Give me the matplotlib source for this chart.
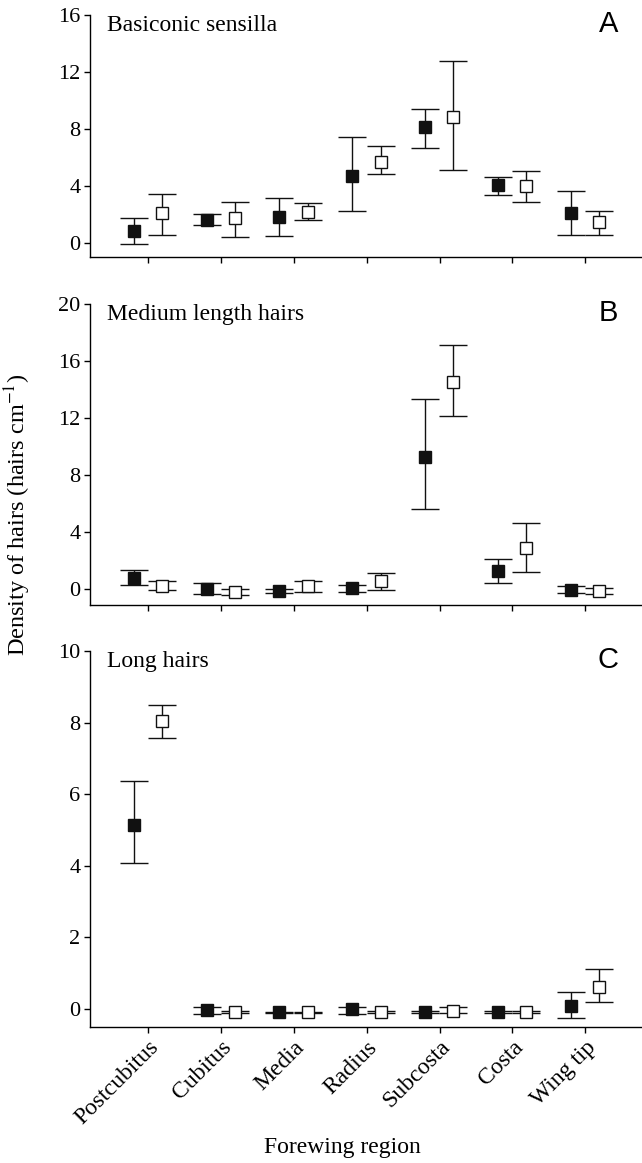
import matplotlib

matplotlib.use("Agg")
import matplotlib.pyplot as plt  # noqa: E402
import numpy as np  # noqa: E402


REGIONS = ["Postcubitus", "Cubitus", "Media", "Radius", "Subcosta", "Costa", "Wing tip"]

# panel A: basiconic sensilla (mean, lower end, upper end of error bar)
a_filled_mean = [0.84, 1.59, 1.83, 4.71, 8.10, 4.03, 2.06]
a_filled_low = [-0.09, 1.24, 0.47, 2.20, 6.67, 3.33, 0.54]
a_filled_high = [1.71, 2.01, 3.11, 7.40, 9.41, 4.64, 3.61]
a_open_mean = [2.06, 1.71, 2.18, 5.64, 8.85, 3.98, 1.48]
a_open_low = [0.54, 0.44, 1.59, 4.80, 5.13, 2.86, 0.54]
a_open_high = [3.40, 2.83, 2.79, 6.81, 12.74, 5.06, 2.22]

# panel B: medium length hairs
b_filled_mean = [0.82, 0.00, -0.14, 0.12, 9.24, 1.29, -0.05]
b_filled_low = [0.30, -0.35, -0.28, -0.16, 5.61, 0.42, -0.26]
b_filled_high = [1.38, 0.42, 0.00, 0.33, 13.33, 2.15, 0.21]
b_open_mean = [0.23, -0.19, 0.23, 0.58, 14.53, 2.90, -0.12]
b_open_low = [-0.05, -0.40, -0.16, -0.02, 12.16, 1.22, -0.30]
b_open_high = [0.56, 0.00, 0.56, 1.12, 17.12, 4.68, 0.09]

# panel C: long hairs
c_filled_mean = [5.14, -0.02, -0.09, -0.01, -0.08, -0.08, 0.10]
c_filled_low = [4.09, -0.13, -0.11, -0.13, -0.10, -0.10, -0.25]
c_filled_high = [6.38, 0.07, -0.07, 0.07, -0.06, -0.06, 0.47]
c_open_mean = [8.04, -0.08, -0.09, -0.08, -0.04, -0.08, 0.63]
c_open_low = [7.57, -0.10, -0.11, -0.10, -0.11, -0.10, 0.20]
c_open_high = [8.48, -0.06, -0.07, -0.06, 0.05, -0.06, 1.11]

PANELS = [
    ("Basiconic sensilla", "A", (-1.0, 16.0), np.arange(0, 17, 4),
     (a_filled_mean, a_filled_low, a_filled_high), (a_open_mean, a_open_low, a_open_high)),
    ("Medium length hairs", "B", (-1.1, 20.0), np.arange(0, 21, 4),
     (b_filled_mean, b_filled_low, b_filled_high), (b_open_mean, b_open_low, b_open_high)),
    ("Long hairs", "C", (-0.5, 10.0), np.arange(0, 11, 2),
     (c_filled_mean, c_filled_low, c_filled_high), (c_open_mean, c_open_low, c_open_high)),
]

SERIF = ["Liberation Serif", "DejaVu Serif"]
SANS = ["Liberation Sans", "DejaVu Sans"]
W, H = 642, 1163

# axes boxes in pixels: (top, bottom)
BOXES = [(15, 257), (304, 605), (651, 1027)]
LEFT_PX, RIGHT_PX = 90, 642


def _errorbar(ax, x, series, face):
    mean, low, high = (np.asarray(v, dtype=float) for v in series)
    yerr = np.vstack([mean - low, high - mean])
    ax.errorbar(
        x, mean, yerr=yerr, fmt="s", color="#111111", ecolor="#111111",
        markerfacecolor=face, markeredgecolor="#111111", markeredgewidth=1.0,
        markersize=8, elinewidth=1.0, capsize=10, capthick=1.0, zorder=3,
    )


def main() -> None:
    plt.rcParams["font.family"] = SERIF
    plt.rcParams["mathtext.fontset"] = "stix"
    fig = plt.figure(figsize=(W / 100, H / 100), dpi=100)
    x = np.arange(len(REGIONS))

    for i, (title, letter, ylim, yticks, filled, hollow) in enumerate(PANELS):
        top, bottom = BOXES[i]
        height = bottom - top
        ax = fig.add_axes([LEFT_PX / W, 1 - bottom / H, (RIGHT_PX - LEFT_PX) / W, height / H])
        _errorbar(ax, x - 0.2, filled, "#111111")
        _errorbar(ax, x + 0.19, hollow, "white")

        ax.set_xlim(-0.8, 6.78)
        ax.set_ylim(*ylim)
        ax.set_yticks(yticks)
        ax.set_xticks(x)
        ax.spines["top"].set_visible(False)
        ax.spines["right"].set_visible(False)
        for side in ("left", "bottom"):
            ax.spines[side].set_linewidth(1.0)
        ax.tick_params(direction="out", length=4, width=1.0, labelsize=16, pad=3)
        if i < 2:
            ax.set_xticklabels([])
        else:
            ax.set_xticklabels(REGIONS, rotation=45, ha="right", rotation_mode="anchor", fontsize=17)

        ax.text(0.03, 1.0, title, transform=ax.transAxes, ha="left", va="top", fontsize=17)
        ax.text(0.957, 1 + 5 / height, letter, transform=ax.transAxes, ha="right", va="top",
                fontsize=21, family=SANS)

    fig.text(18 / W, 1 - 515 / H, "Density of hairs (hairs cm$^{-1}$)", rotation=90,
             ha="center", va="center", fontsize=17.5)
    fig.text(342 / W, 1 - 1148 / H, "Forewing region", ha="center", va="center", fontsize=17)
    fig.savefig("out.png", dpi=100)
    plt.close(fig)


if __name__ == "__main__":
    main()
